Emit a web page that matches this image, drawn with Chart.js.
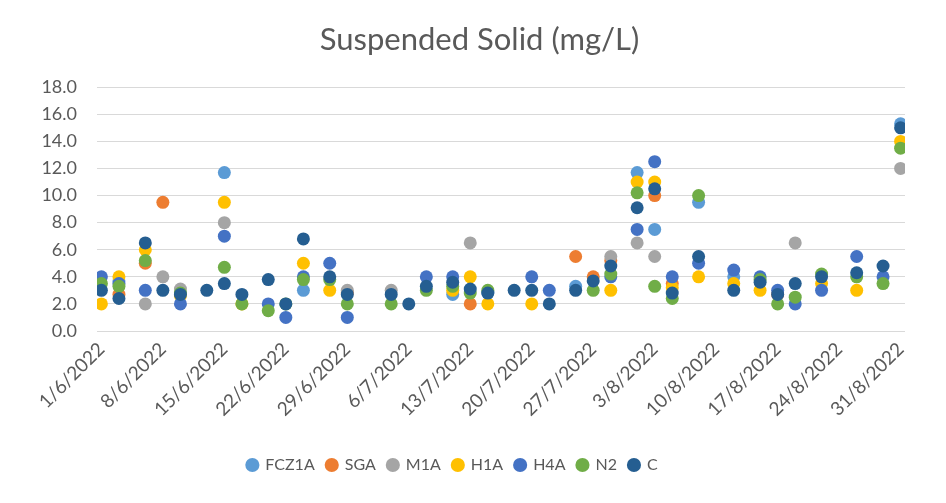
<!DOCTYPE html>
<html>
<head>
  <meta charset="utf-8" />
  <title>Suspended Solid (mg/L)</title>
  <style>
    html, body { margin: 0; padding: 0; background: #fff; }
    #wrap { width: 946px; height: 503px; position: relative; }
  </style>
</head>
<body>
  <div id="wrap"><canvas id="stage"></canvas></div>

  <script src="https://cdn.jsdelivr.net/npm/chart.js@4.4.1/dist/chart.umd.min.js"></script>
  <script>
    // sampling dates (d/m, 2022)
    const dates = ['1/6','3/6','6/6','8/6','10/6','13/6','15/6','17/6','20/6','22/6','24/6',
                   '27/6','29/6','4/7','6/7','8/7','11/7','13/7','15/7','18/7','20/7','22/7',
                   '25/7','27/7','29/7','1/8','3/8','5/8','8/8','12/8','15/8','17/8','19/8',
                   '22/8','26/8','29/8','31/8'];

    const fcz1a = [null,3.7,null,null,null,null,11.7,null,null,null,3.0,
                   null,null,null,null,null,2.7,null,2.8,null,null,null,
                   3.3,null,null,11.7,7.5,null,9.5,4.0,null,null,null,
                   null,null,null,15.3];
    const sga   = [null,2.7,5.0,9.5,null,null,null,null,null,null,null,
                   null,2.8,null,null,null,null,2.0,null,null,null,null,
                   5.5,4.0,5.2,null,10.0,3.5,null,null,null,2.7,null,
                   null,null,null,null];
    const m1a   = [null,null,2.0,4.0,3.1,null,8.0,null,null,null,null,
                   null,3.0,3.0,null,null,null,6.5,null,null,null,null,
                   null,null,5.5,6.5,5.5,null,null,null,null,null,6.5,
                   null,null,null,12.0];
    const h1a   = [2.0,4.0,6.0,null,2.6,null,9.5,2.0,null,null,5.0,
                   3.0,null,null,null,null,3.0,4.0,2.0,null,2.0,null,
                   null,null,3.0,11.0,11.0,3.2,4.0,3.5,3.0,null,null,
                   3.5,3.0,null,14.0];
    const h4a   = [4.0,3.5,3.0,null,2.0,null,7.0,null,2.0,1.0,4.0,
                   5.0,1.0,null,null,4.0,4.0,null,null,null,4.0,3.0,
                   null,null,4.0,7.5,12.5,4.0,5.0,4.5,4.0,3.0,2.0,
                   3.0,5.5,4.0,null];
    const n2    = [3.5,3.3,5.2,null,2.8,null,4.7,2.0,1.5,2.0,3.8,
                   3.8,2.0,2.0,null,3.0,3.3,2.8,3.0,null,null,null,
                   null,3.0,4.2,10.2,3.3,2.4,10.0,null,3.8,2.0,2.5,
                   4.2,4.0,3.5,13.5];
    const c     = [3.0,2.4,6.5,3.0,2.7,3.0,3.5,2.7,3.8,2.0,6.8,
                   4.0,2.7,2.7,2.0,3.3,3.6,3.1,2.8,3.0,3.0,2.0,
                   3.0,3.7,4.8,9.1,10.5,2.8,5.5,3.0,3.6,2.7,3.5,
                   4.0,4.3,4.8,15.0];

    const tickLabels = ['1/6/2022','8/6/2022','15/6/2022','22/6/2022','29/6/2022','6/7/2022','13/7/2022',
                        '20/7/2022','27/7/2022','3/8/2022','10/8/2022','17/8/2022','24/8/2022','31/8/2022'];

    // days since 1/6/2022
    function dayOf(s) {
      const p = s.split('/').map(Number);
      return Math.round((Date.UTC(2022, p[1] - 1, p[0]) - Date.UTC(2022, 5, 1)) / 86400000);
    }
    const days = dates.map(dayOf);
    const tickDays = tickLabels.map(dayOf);

    function pts(arr) {
      const out = [];
      arr.forEach((v, i) => { if (v !== null) out.push({ x: days[i], y: v }); });
      return out;
    }

    const series = [
      { label: 'FCZ1A', data: fcz1a, color: '#5B9BD5' },
      { label: 'SGA',   data: sga,   color: '#ED7D31' },
      { label: 'M1A',   data: m1a,   color: '#A5A5A5' },
      { label: 'H1A',   data: h1a,   color: '#FFC000' },
      { label: 'H4A',   data: h4a,   color: '#4472C4' },
      { label: 'N2',    data: n2,    color: '#70AD47' },
      { label: 'C',     data: c,     color: '#255E91' }
    ];

    const font = "Lato, 'Open Sans', sans-serif";
    const grey = '#595959';

    // title sits centred on the whole page, legend a bit left of it
    const titleShift = {
      id: 'titleShift',
      afterLayout(chart) {
        chart.titleBlock.left += 27;
        chart.titleBlock.right += 27;
      }
    };

    new Chart(document.getElementById('stage'), {
      type: 'scatter',
      data: {
        datasets: series.map((s, i) => ({
          label: s.label,
          data: pts(s.data),
          backgroundColor: s.color,
          borderColor: s.color,
          pointRadius: 6.5,
          pointHoverRadius: 6.5,
          pointBorderWidth: 0,
          order: series.length - i   // later series drawn on top, like Excel
        }))
      },
      plugins: [titleShift],
      options: {
        responsive: true,
        maintainAspectRatio: false,
        animation: false,
        layout: { padding: { left: 0, right: 41, top: 0, bottom: 20 } },
        plugins: {
          title: {
            display: true,
            text: 'Suspended Solid (mg/L)',
            color: grey,
            font: { family: font, size: 31, weight: 'normal' },
            padding: { top: 21, bottom: 29 }
          },
          legend: {
            position: 'bottom',
            labels: {
              usePointStyle: true,
              pointStyle: 'circle',
              boxWidth: 10,
              boxHeight: 10,
              padding: 12,
              color: grey,
              font: { family: font, size: 16 },
              sort: (a, b) => a.datasetIndex - b.datasetIndex
            }
          },
          tooltip: { enabled: false }
        },
        scales: {
          x: {
            type: 'linear',
            min: -0.5,
            max: 91.5,
            afterBuildTicks: (scale) => { scale.ticks = tickDays.map(v => ({ value: v })); },
            afterFit: (scale) => { scale.height = 114; },
            ticks: {
              autoSkip: false,
              minRotation: 45,
              maxRotation: 45,
              padding: 7,
              color: grey,
              font: { family: font, size: 19 },
              callback: (v) => tickLabels[tickDays.indexOf(v)]
            },
            grid: { display: false, drawTicks: false },
            border: { display: false }
          },
          y: {
            min: 0,
            max: 18,
            afterFit: (scale) => { scale.width = 97; },
            ticks: {
              stepSize: 2,
              padding: 20,
              color: grey,
              font: { family: font, size: 18 },
              callback: (v) => v.toFixed(1)
            },
            grid: { color: '#D9D9D9', lineWidth: 1, drawTicks: false },
            border: { display: false }
          }
        }
      }
    });
  </script>
</body>
</html>
